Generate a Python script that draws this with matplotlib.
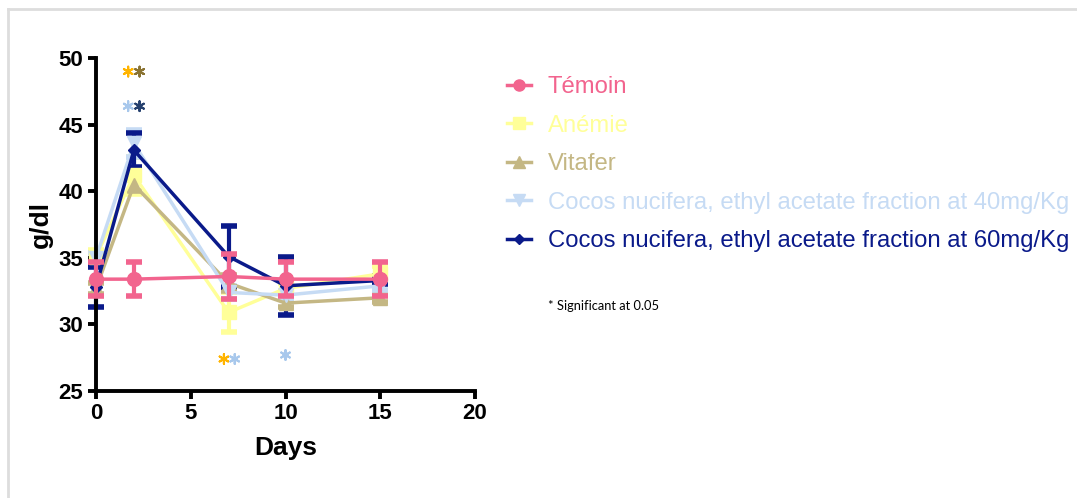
import matplotlib
matplotlib.use("Agg")
import matplotlib.pyplot as plt
from matplotlib.lines import Line2D

days = [0, 2, 7, 10, 15]

temoin = [33.4, 33.4, 33.6, 33.4, 33.4]
temoin_err = [1.3, 1.3, 1.7, 1.3, 1.3]
anemie = [35.1, 41.2, 30.9, 32.7, 33.8]
anemie_err = [0.5, 1.4, 1.5, 0.4, 0.6]
vitafer = [32.7, 40.5, 33.1, 31.6, 32.0]
vitafer_err = [0.4, 0.5, 0.6, 0.3, 0.3]
cocos40 = [35.0, 43.6, 32.4, 32.2, 32.9]
cocos40_err = [0.4, 1.0, 0.5, 0.3, 0.3]
cocos60 = [32.8, 43.1, 35.1, 32.9, 33.3]
cocos60_err = [1.5, 1.3, 2.3, 2.2, 0.3]

names = ["Témoin", "Anémie", "Vitafer",
         "Cocos nucifera, ethyl acetate fraction at 40mg/Kg",
         "Cocos nucifera, ethyl acetate fraction at 60mg/Kg"]
colors = ["#F2648E", "#FFFF99", "#C4B784", "#C6DBF4", "#0A1A8A"]
markers = ["o", "s", "^", "v", "D"]

# significance stars: x, y, colour
star_x = [1.7, 2.3, 1.7, 2.3, 6.75, 7.32, 10.0]
star_y = [49.0, 49.0, 46.4, 46.4, 27.4, 27.4, 27.7]
star_c = ["#FFB400", "#8A7332", "#A8C8EC", "#25406E", "#FFB400", "#A8C8EC", "#A8C8EC"]

plt.rcParams['font.family'] = ['Liberation Sans', 'DejaVu Sans']

fig = plt.figure(figsize=(10.77, 4.98), dpi=100)
ax = fig.add_axes([0.0891, 0.215, 0.352, 0.668])

series = [(anemie, anemie_err), (vitafer, vitafer_err), (cocos40, cocos40_err),
          (cocos60, cocos60_err), (temoin, temoin_err)]
order = [1, 2, 3, 4, 0]
for (vals, err), i in zip(series, order):
    ax.errorbar(days, vals, yerr=err, color=colors[i], marker=markers[i],
                markersize=10 if i != 4 else 6, linewidth=2.5, elinewidth=3,
                capsize=6, capthick=4, zorder=2 + (i == 0), clip_on=False)

ax.scatter(star_x, star_y, c=star_c, marker=(6, 2, 0), s=50, linewidths=1.5,
           clip_on=False, zorder=5)

ax.set_xlim(0, 20)
ax.set_ylim(25, 50)
ax.set_xticks([0, 5, 10, 15, 20])
ax.set_yticks([25, 30, 35, 40, 45, 50])
for s in ["top", "right"]:
    ax.spines[s].set_visible(False)
for s in ["left", "bottom"]:
    ax.spines[s].set_linewidth(2.8)
ax.tick_params(width=2.8, length=6, labelsize=16, pad=3)
for lab in ax.get_xticklabels() + ax.get_yticklabels():
    lab.set_fontweight("bold")
ax.set_xlabel("Days", fontsize=19, fontweight="bold", labelpad=8)
ax.set_ylabel("g/dl", fontsize=19, fontweight="bold", labelpad=4)

handles = [Line2D([], [], color=colors[i], marker=markers[i], linewidth=2.5,
                  markersize=8 if i != 4 else 5) for i in range(5)]
leg = fig.legend(handles, names, loc="upper left", bbox_to_anchor=(0.462, 0.866),
                 frameon=False, fontsize=17.2, handlelength=1.0, handletextpad=0.7,
                 labelspacing=0.69, borderaxespad=0)
for t, c in zip(leg.get_texts(), colors):
    t.set_color(c)

fig.text(0.509, 0.377, "* Significant at 0.05", fontsize=9.3, family="Lato")

# light grey frame around the picture
fig.add_artist(Line2D([0.0075, 0.0075], [0, 0.982], color="#DDDDDD", linewidth=2))
fig.add_artist(Line2D([0.0075, 1.0], [0.982, 0.982], color="#DDDDDD", linewidth=2))

fig.savefig("out.png", dpi=100)
